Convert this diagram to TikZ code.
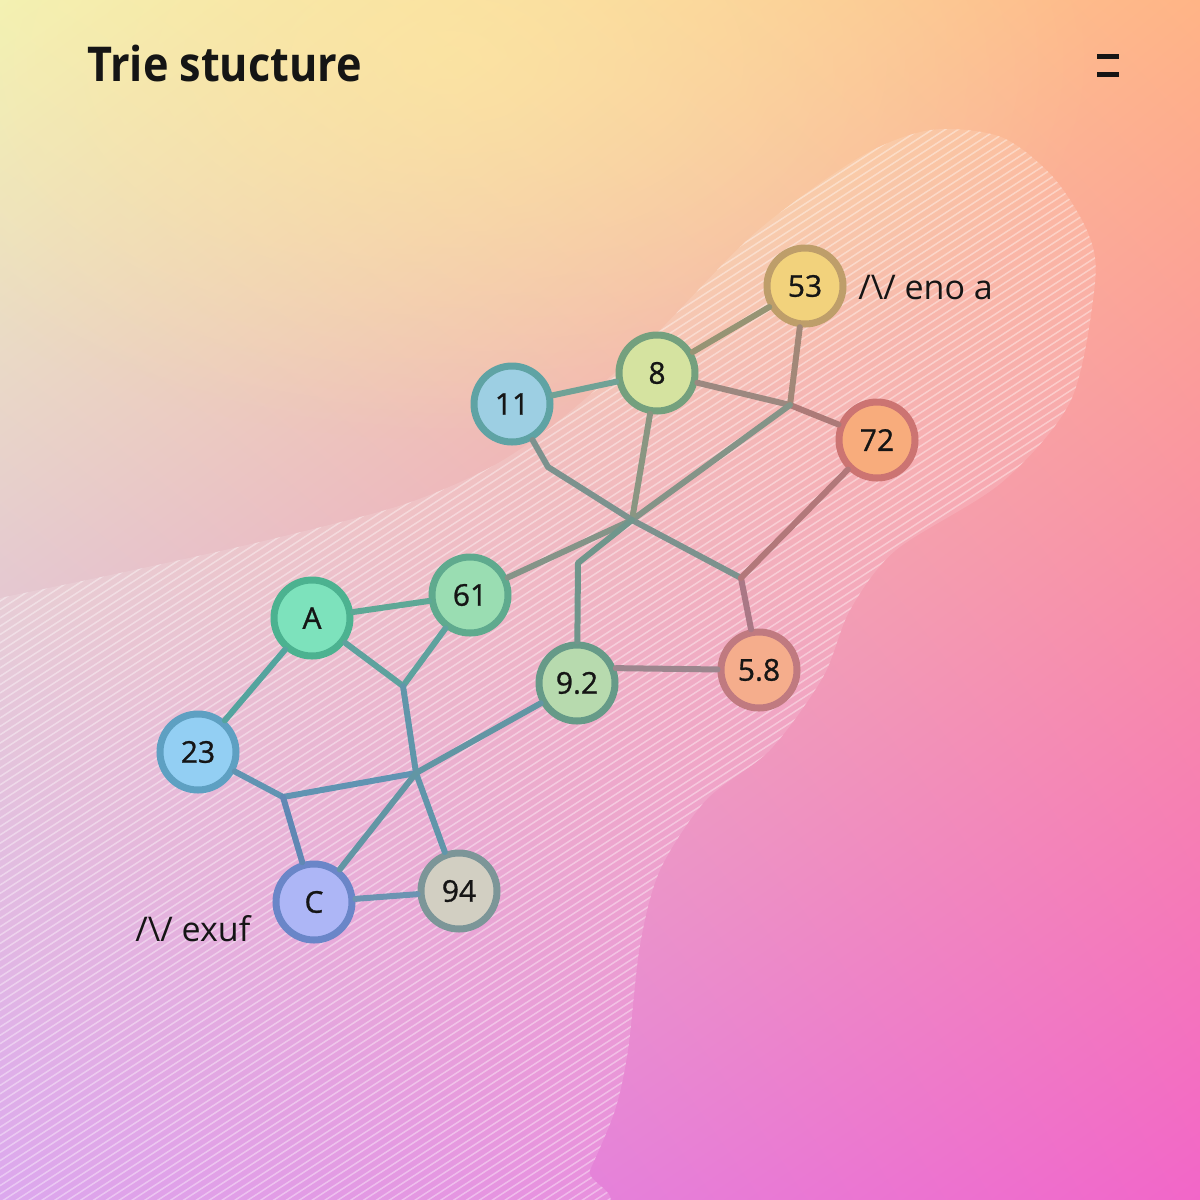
\documentclass[tikz,border=0pt]{standalone}
\usepackage{fontspec}
\setmainfont{Open Sans}
\newfontfamily\semifont{Open Sans}[FakeBold=0.9]
\usepackage{graphicx}
\usetikzlibrary{shadings,fadings}
\tikzfading[name=glowfade, inner color=transparent!0, outer color=transparent!100]
\definecolor{bgTL}{HTML}{F1F3B6}
\definecolor{bgTR}{HTML}{FFB486}
\definecolor{bgBL}{HTML}{D89CEC}
\definecolor{bgBR}{HTML}{F266C8}
\definecolor{glow}{HTML}{FFEBA0}
\definecolor{txt}{HTML}{151515}
\tikzset{
  tnode/.style={circle, minimum size=38pt, inner sep=0pt, line width=3.5pt, text=txt, font=\semifont\fontsize{15}{15}\selectfont},
  link/.style={line width=3pt, line cap=round, line join=round},
  lbl/.style={anchor=base west, inner sep=0pt, text=txt, font=\fontsize{17}{17}\selectfont},
}
\begin{document}
\begin{tikzpicture}[x=0.5pt,y=-0.5pt]
\useasboundingbox (0,0) rectangle (1200,1200);
\shade[upper left=bgTL, upper right=bgTR, lower left=bgBL, lower right=bgBR] (0,0) rectangle (1200,1200);
\begin{scope}
\clip (0,0) rectangle (1200,1200);
\fill[glow, path fading=glowfade, opacity=0.6] (450,60) ellipse [x radius=650, y radius=380];
\end{scope}
% hatched blob
\fill[white, opacity=0.12] plot[smooth cycle, tension=0.5] coordinates {(-60,610) (0,598) (134,570) (268,540) (402,505) (491,467) (560,420) (650,340) (755,233) (860,157) (931,130) (1001,137) (1053,177) (1088,233) (1095,283) (1071,400) (1001,483) (896,550) (850,610) (823,677) (770,750) (706,800) (660,870) (640,945) (628,1050) (615,1110) (590,1170) (565,1220) (-60,1300)};
\begin{scope}
\clip plot[smooth cycle, tension=0.5] coordinates {(-60,610) (0,598) (134,570) (268,540) (402,505) (491,467) (560,420) (650,340) (755,233) (860,157) (931,130) (1001,137) (1053,177) (1088,233) (1095,283) (1071,400) (1001,483) (896,550) (850,610) (823,677) (770,750) (706,800) (660,870) (640,945) (628,1050) (615,1110) (590,1170) (565,1220) (-60,1300)};
\foreach \c in {0,8.35,...,2000} \draw[white, opacity=0.38, line width=0.75pt] (0,\c) -- (1200,\c-779);
\end{scope}
% nodes
\node[tnode, fill={rgb,255:red,242;green,210;blue,124}, draw={rgb,255:red,190;green,158;blue,106}] (n53) at (805,286) {53};
\node[tnode, fill={rgb,255:red,213;green,227;blue,160}, draw={rgb,255:red,116;green,160;blue,126}] (n8) at (657,373) {8};
\node[tnode, fill={rgb,255:red,157;green,207;blue,227}, draw={rgb,255:red,95;green,163;blue,164}] (n11) at (512,404) {11};
\node[tnode, fill={rgb,255:red,248;green,172;blue,124}, draw={rgb,255:red,204;green,116;blue,114}] (n72) at (877,440) {72};
\node[tnode, fill={rgb,255:red,154;green,221;blue,178}, draw={rgb,255:red,95;green,170;blue,142}] (n61) at (470,595) {61};
\node[tnode, fill={rgb,255:red,125;green,226;blue,188}, draw={rgb,255:red,76;green,178;blue,144}] (nA) at (312,618) {A};
\node[tnode, fill={rgb,255:red,183;green,218;blue,174}, draw={rgb,255:red,102;green,154;blue,136}] (n92) at (577,683) {9.2};
\node[tnode, fill={rgb,255:red,245;green,173;blue,140}, draw={rgb,255:red,192;green,122;blue,128}] (n58) at (759,670) {5.8};
\node[tnode, fill={rgb,255:red,147;green,207;blue,243}, draw={rgb,255:red,94;green,160;blue,194}] (n23) at (198,752) {23};
\node[tnode, fill={rgb,255:red,173;green,182;blue,246}, draw={rgb,255:red,106;green,134;blue,200}] (nC) at (314,902) {C};
\node[tnode, fill={rgb,255:red,210;green,207;blue,194}, draw={rgb,255:red,124;green,150;blue,152}] (n94) at (459,891) {94};
% junctions
\coordinate (J1) at (790,405);
\coordinate (J2) at (632,520);
\coordinate (J3) at (741,578);
\coordinate (J4) at (403,686);
\coordinate (J5) at (416,773);
\coordinate (J6) at (283,797);
\coordinate (B1) at (548,467);
\coordinate (B2) at (578,563);
% connectors
\draw[link, color={rgb,255:red,112;green,162;blue,150}] (n11) -- (n8);
\draw[link, color={rgb,255:red,150;green,148;blue,116}] (n8) -- (n53);
\draw[link, color={rgb,255:red,156;green,136;blue,128}] (n8) -- (J1);
\draw[link, color={rgb,255:red,172;green,122;blue,120}] (J1) -- (n72);
\draw[link, color={rgb,255:red,162;green,136;blue,120}] (n53) -- (J1);
\draw[link, color={rgb,255:red,132;green,148;blue,136}] (J1) -- (J2) -- (n61);
\draw[link, color={rgb,255:red,138;green,150;blue,130}] (n8) -- (J2);
\draw[link, color={rgb,255:red,124;green,146;blue,142}] (n11) -- (B1) -- (J2) -- (J3);
\draw[link, color={rgb,255:red,170;green,120;blue,134}] (J3) -- (n58);
\draw[link, color={rgb,255:red,178;green,120;blue,122}] (n72) -- (J3);
\draw[link, color={rgb,255:red,112;green,150;blue,140}] (J2) -- (B2) -- (n92);
\draw[link, color={rgb,255:red,156;green,134;blue,142}] (n92.21) -- (n58);
\draw[link, color={rgb,255:red,94;green,168;blue,150}] (nA) -- (n61);
\draw[link, color={rgb,255:red,94;green,162;blue,158}] (nA) -- (J4);
\draw[link, color={rgb,255:red,94;green,162;blue,158}] (n61) -- (J4);
\draw[link, color={rgb,255:red,96;green,150;blue,170}] (J4) -- (J5) -- (n94);
\draw[link, color={rgb,255:red,84;green,164;blue,158}] (n23) -- (nA);
\draw[link, color={rgb,255:red,96;green,148;blue,178}] (n23) -- (J6) -- (J5);
\draw[link, color={rgb,255:red,96;green,136;blue,180}] (J6) -- (nC);
\draw[link, color={rgb,255:red,98;green,150;blue,164}] (n92) -- (J5) -- (nC);
\draw[link, color={rgb,255:red,108;green,148;blue,178}] (nC) -- (n94);
% texts
\node[anchor=base west, inner sep=0pt, text=txt] (title) at (87,81) {\scalebox{0.9}[1]{\fontsize{24}{24}\selectfont\bfseries Trie stucture}};
\node[lbl] (lab53) at (858,299) {/\textbackslash/ eno a};
\node[lbl] (labC) at (135,941) {/\textbackslash/ exuf};
% menu icon
\draw[line width=2.5pt, txt] (1097,56.5) -- (1119,56.5);
\draw[line width=2.5pt, txt] (1097,74) -- (1119,74);
\end{tikzpicture}
\end{document}
